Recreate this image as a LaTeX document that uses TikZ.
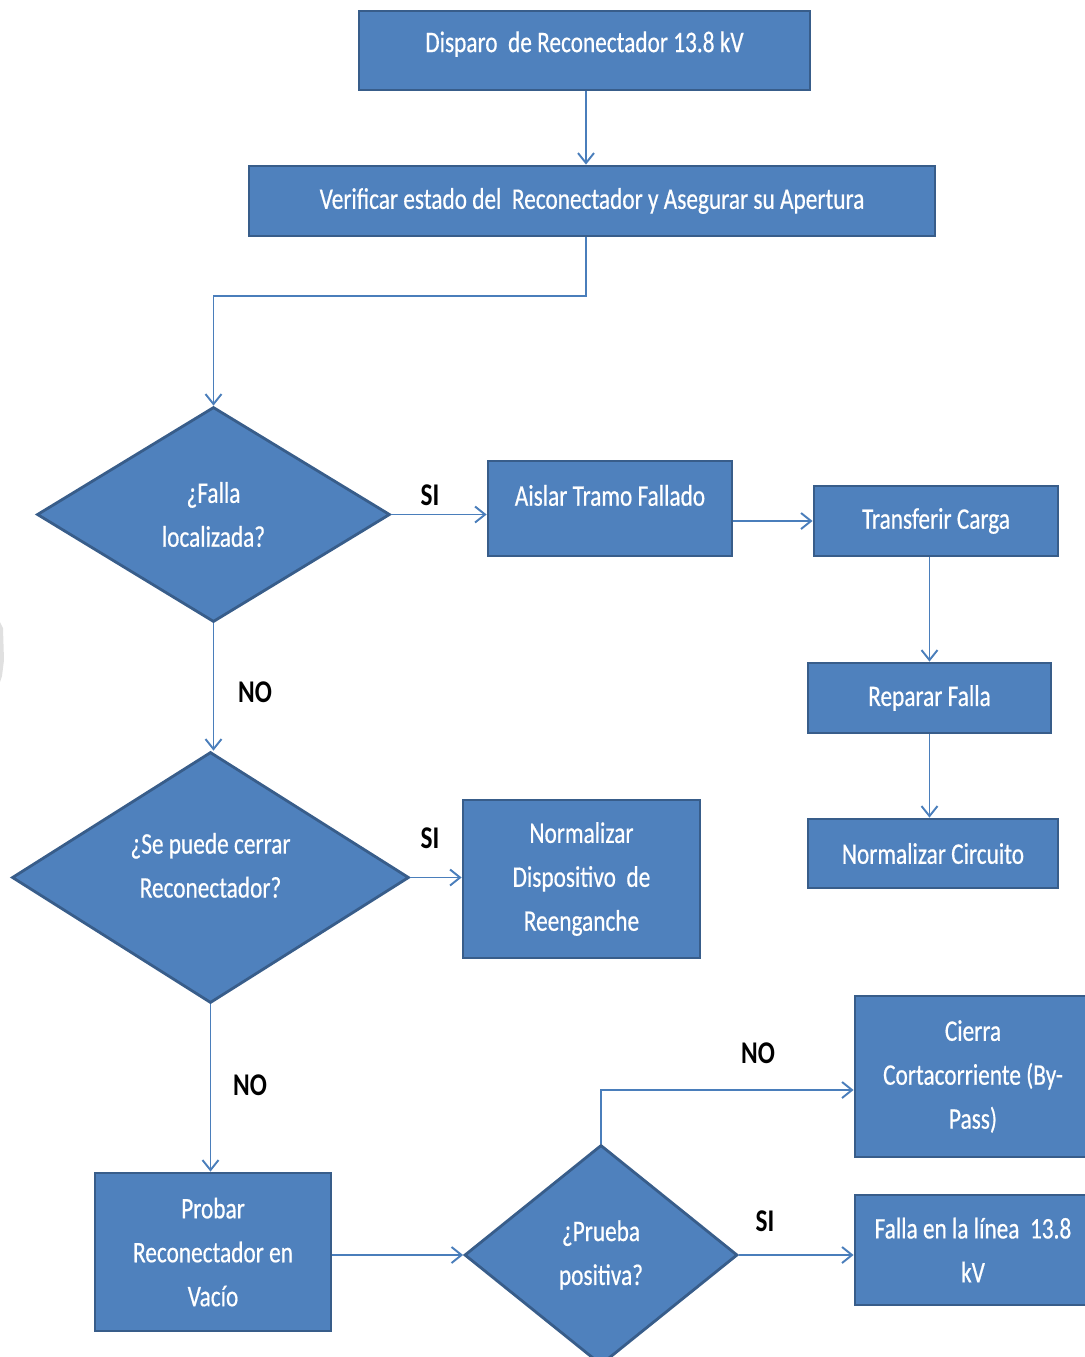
\documentclass[tikz,border=0pt]{standalone}
\usepackage{fontspec}
\usetikzlibrary{shapes.geometric,arrows.meta,calc}
\newfontfamily\boxfont[FakeStretch=0.78,FakeBold=0.5]{Carlito}
\newfontfamily\tagfont[FakeStretch=0.8]{Carlito Bold}
\definecolor{boxfill}{HTML}{4F81BD}
\definecolor{boxline}{HTML}{385D8A}
\definecolor{linkcol}{HTML}{4A7EBB}
\newcommand\pxl{0.02cm}
\begin{document}
\begin{tikzpicture}[x=0.02cm,y=-0.02cm,
  pbox/.style={rectangle, draw=boxline, fill=boxfill, line width=1.6pt,
    text=white, font=\boxfont\fontsize{17}{25}\selectfont, align=center, inner sep=0pt},
  pdiam/.style={diamond, draw=boxline, fill=boxfill, line width=1.6pt,
    text=white, font=\boxfont\fontsize{17}{25}\selectfont, align=center, inner sep=0pt},
  tag/.style={font=\tagfont\fontsize{18}{20}\selectfont, text=black, inner sep=0pt},
  link/.style={draw=linkcol, line width=1.1pt, -{Straight Barb[length=0.2cm,width=0.32cm,line width=1.1pt]}}
]
\useasboundingbox (0,0) rectangle (1085,1357);
\clip (0,0) rectangle (1085,1357);

% edge shadow at the left border
\fill[black!12] (0,622) -- (3,628) -- (4,660) -- (2,676) -- (0,682) -- cycle;

% process boxes
\node[pbox, minimum width=451*\pxl, minimum height=79*\pxl, text depth=10pt] (b1) at (584.5,50.5) {Disparo\ \ de Reconectador 13.8 kV};
\node[pbox, minimum width=686*\pxl, minimum height=70*\pxl] (b2) at (592,201) {Verificar estado del\ \ Reconectador y Asegurar su Apertura};
\node[pbox, minimum width=244*\pxl, minimum height=95*\pxl, text depth=15pt] (aislar) at (610,508.5) {Aislar Tramo Fallado};
\node[pbox, minimum width=244*\pxl, minimum height=70*\pxl] (trans) at (936,521) {Transferir Carga};
\node[pbox, minimum width=243*\pxl, minimum height=70*\pxl] (repar) at (929.5,698) {Reparar Falla};
\node[pbox, minimum width=250*\pxl, minimum height=69*\pxl] (normc) at (933,853.5) {Normalizar Circuito};
\node[pbox, minimum width=237*\pxl, minimum height=158*\pxl] (normd) at (581.5,879) {Normalizar\\Dispositivo\ \ de\\Reenganche};
\node[pbox, minimum width=236*\pxl, minimum height=158*\pxl] (probar) at (213,1252) {Probar\\Reconectador en\\Vacío};
\node[pbox, minimum width=236*\pxl, minimum height=161*\pxl] (cierra) at (973,1076.5) {Cierra\\Cortacorriente (By-\\Pass)};
\node[pbox, minimum width=236*\pxl, minimum height=110*\pxl] (falla) at (973,1250) {Falla\ en la línea\ \ 13.8\\kV};

% decisions
\node[pdiam, minimum width=353*\pxl, minimum height=215*\pxl] (d1) at (213.5,514.5) {¿Falla\\localizada?};
\node[pdiam, minimum width=397*\pxl, minimum height=251*\pxl, text depth=14pt] (d2) at (210.5,877.5) {¿Se puede cerrar\\Reconectador?};
\node[pdiam, minimum width=273*\pxl, minimum height=220*\pxl] (d3) at (601,1255) {¿Prueba\\positiva?};

% branch tags
\node[tag] (si1) at (430,495) {SI};
\node[tag] (no1) at (255,692) {NO};
\node[tag] (si2) at (430,838) {SI};
\node[tag] (no2) at (250,1085) {NO};
\node[tag] (no3) at (758,1053) {NO};
\node[tag] (si3) at (765,1221) {SI};

% connectors
\coordinate (elbow) at (d3.north |- 0,1090);
\draw[link] (b1.south -| 586,0) -- (b2.north -| 586,0);
\draw[link] (b2.south -| 586,0) -- (586,296) -| (d1.north);
\draw[link] (d1.east) -- (d1.east -| aislar.west);
\draw[link] (aislar.east |- trans.west) -- (trans.west);
\draw[link] (repar.north |- trans.south) -- (repar.north);
\draw[link] (repar.south) -- (repar.south |- normc.north);
\draw[link] (d1.south) -- (d1.south |- d2.north);
\draw[link] (d2.east) -- (d2.east -| normd.west);
\draw[link] (d2.south) -- (d2.south |- probar.north);
\draw[link] (probar.east |- d3.west) -- (d3.west);
\draw[link] (d3.north) -- (elbow) -- (elbow -| cierra.west);
\draw[link] (d3.east) -- (d3.east -| falla.west);
\end{tikzpicture}
\end{document}
